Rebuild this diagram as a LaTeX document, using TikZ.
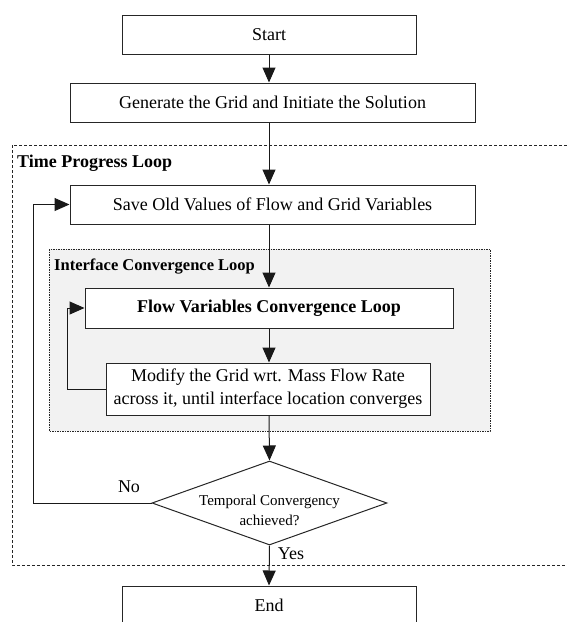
\documentclass[tikz,border=0pt]{standalone}
\usepackage{fontspec}
\setmainfont{Liberation Serif}
\usetikzlibrary{arrows.meta,shapes.geometric}

\tikzset{
  box/.style={draw=black!85, line width=1pt, fill=white, inner sep=0pt,
    align=center, font=\fontsize{18}{23}\selectfont},
  decision/.style={draw=black!85, line width=1pt, fill=white, diamond,
    inner sep=0pt, minimum width=235pt, minimum height=84pt},
  flow/.style={draw=black!90, line width=1pt, -{Triangle[width=13pt,length=15pt]}},
  looptitle/.style={anchor=west, inner sep=0pt, font=\bfseries\fontsize{18}{22}\selectfont},
}

\begin{document}
\begin{tikzpicture}[x=1pt, y=-1pt, line join=miter]
  \useasboundingbox (0,0) rectangle (566,622);

  % Loop frames
  \draw[black!85, line width=0.9pt, dash pattern=on 3pt off 2pt] (12,145) rectangle (572,565);
  \draw[black!85, line width=0.9pt, fill=black!5, dash pattern=on 1.5pt off 1pt] (49,249) rectangle (490,431);
  \node[looptitle] (TimeLoop) at (17,163) {Time Progress Loop};
  \node[looptitle, font=\bfseries\fontsize{16.5}{20}\selectfont] (IfaceLoop) at (54,267) {Interface Convergence Loop};

  % Steps
  \node[box, minimum width=294pt, minimum height=39pt] (Start) at (269,34.5) {Start};
  \node[box, minimum width=405pt, minimum height=39pt] (Gen) at (272.5,102.5) {Generate the Grid and Initiate the Solution};
  \node[box, minimum width=405pt, minimum height=39pt] (Save) at (272.5,204.5) {Save Old Values of Flow and Grid Variables};
  \node[box, minimum width=368pt, minimum height=40pt, font=\bfseries\fontsize{18}{22}\selectfont] (Flow) at (269,308) {Flow Variables Convergence Loop};
  \node[box, minimum width=324pt, minimum height=52pt] (Mod) at (268,389) {Modify the Grid wrt. Mass Flow Rate\\across it, until interface location converges};
  \node[decision] (Test) at (269.5,503) {};
  \node[align=center, font=\fontsize{15}{20}\selectfont] (TestText) at (269.5,510) {Temporal Convergency\\achieved?};
  \node[box, minimum width=294pt, minimum height=39pt] (End) at (269,605.5) {End};

  % Loop return points
  \coordinate (OuterRet) at (33,0);
  \coordinate (InnerRet) at (67,0);

  % Connectors
  \draw[flow] (Start.south) -- (Start.south |- Gen.north);
  \draw[flow] (Start.south |- Gen.south) -- (Start.south |- Save.north);
  \draw[flow] (Start.south |- Save.south) -- (Start.south |- Flow.north);
  \draw[flow] (Start.south |- Flow.south) -- (Start.south |- Mod.north);
  \draw[flow] (Start.south |- Mod.south) -- (Test.north);
  \draw[flow] (Test.south) -- (End.north);
  \draw[flow] (Mod.west) -- (Mod.west -| InnerRet) |- (Flow.west);
  \draw[flow] (Test.west) -- (Test.west -| OuterRet) |- (Save.west);

  % Branch labels
  \node[font=\fontsize{18}{22}\selectfont] (NoLbl) at (129,487) {No};
  \node[font=\fontsize{18}{22}\selectfont] (YesLbl) at (291,554) {Yes};
\end{tikzpicture}
\end{document}
